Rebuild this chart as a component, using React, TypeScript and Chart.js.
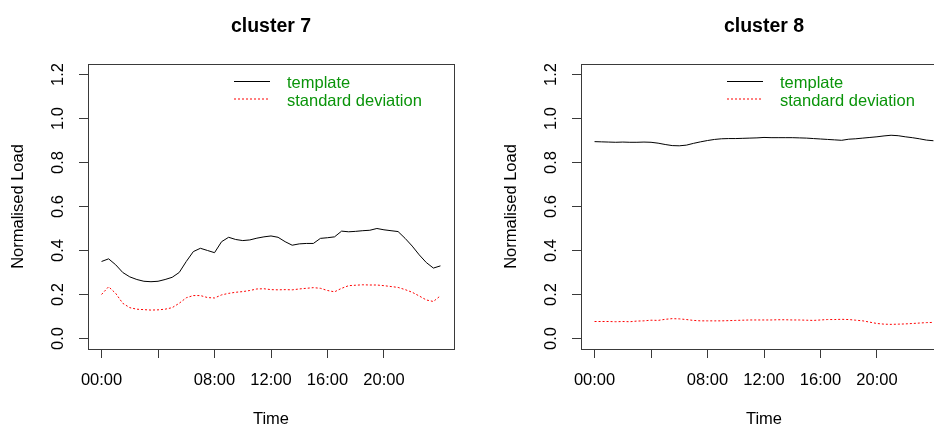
import React, { useEffect, useRef } from "react";
import { Chart, registerables } from "chart.js";

Chart.register(...registerables);

const HOURS = [
  0, 0.5, 1, 1.5, 2, 2.5, 3, 3.5, 4, 4.5, 5, 5.5, 6, 6.5, 7, 7.5, 8, 8.5, 9, 9.5,
  10, 10.5, 11, 11.5, 12, 12.5, 13, 13.5, 14, 14.5, 15, 15.5, 16, 16.5, 17, 17.5,
  18, 18.5, 19, 19.5, 20, 20.5, 21, 21.5, 22, 22.5, 23, 23.5, 24,
];

const C7_TEMPLATE = [
  0.35, 0.362, 0.335, 0.3, 0.28, 0.268, 0.26, 0.258, 0.26, 0.268, 0.278, 0.3,
  0.35, 0.395, 0.41, 0.4, 0.39, 0.44, 0.46, 0.45, 0.445, 0.448, 0.456, 0.462,
  0.466, 0.46, 0.44, 0.424, 0.43, 0.432, 0.432, 0.455, 0.458, 0.462, 0.488,
  0.485, 0.487, 0.49, 0.492, 0.5, 0.494, 0.49, 0.486, 0.455, 0.42, 0.38, 0.345,
  0.32, 0.33,
];

const C7_SD = [
  0.2, 0.235, 0.205, 0.16, 0.14, 0.133, 0.131, 0.129, 0.13, 0.133, 0.14, 0.16,
  0.185, 0.195, 0.195, 0.186, 0.184, 0.198, 0.205, 0.21, 0.213, 0.218, 0.225,
  0.226, 0.222, 0.221, 0.222, 0.221, 0.225, 0.228, 0.231, 0.228, 0.218, 0.212,
  0.228, 0.24, 0.242, 0.244, 0.243, 0.243, 0.24, 0.236, 0.232, 0.222, 0.21,
  0.193, 0.175, 0.168, 0.194,
];

const C8_TEMPLATE = [
  0.895, 0.894, 0.893, 0.892, 0.893, 0.892, 0.892, 0.893, 0.892, 0.888, 0.882,
  0.877, 0.876, 0.879, 0.887, 0.894, 0.9, 0.905, 0.908, 0.909, 0.909, 0.91,
  0.911, 0.912, 0.914, 0.913, 0.913, 0.913, 0.913, 0.912, 0.911, 0.909, 0.907,
  0.905, 0.903, 0.901, 0.906, 0.908, 0.911, 0.914, 0.917, 0.921, 0.924, 0.922,
  0.917, 0.913, 0.908, 0.902, 0.899,
];

const C8_SD = [
  0.077, 0.077, 0.077, 0.076, 0.077, 0.076, 0.079, 0.08, 0.083, 0.082, 0.087,
  0.09, 0.089, 0.086, 0.082, 0.08, 0.08, 0.08, 0.08, 0.081, 0.082, 0.083, 0.084,
  0.084, 0.084, 0.084, 0.085, 0.085, 0.084, 0.084, 0.083, 0.082, 0.084, 0.086,
  0.086, 0.087, 0.086, 0.083, 0.08, 0.074, 0.068, 0.065, 0.064, 0.065, 0.066,
  0.068, 0.07, 0.072, 0.073,
];

const X_TICKS = [0, 4, 8, 12, 16, 20];
const X_TICK_LABELS = ["00:00", "", "08:00", "12:00", "16:00", "20:00"];
const Y_TICKS = [0, 0.2, 0.4, 0.6, 0.8, 1.0, 1.2];
const Y_TICK_LABELS = ["0.0", "0.2", "0.4", "0.6", "0.8", "1.0", "1.2"];
const LEGEND_LABELS = ["template", "standard deviation"];

const FONT = "'Liberation Sans', Arial, Helvetica, sans-serif";
const AXIS_COLOR = "#3a3a3a";
const LEGEND_TEXT_COLOR = "#0a940a";

function makeRPlotPlugin(title: string) {
  return {
    id: "rplot",
    afterDraw(chart: any) {
      const { ctx, chartArea, scales } = chart;
      const xs = scales.x;
      const ys = scales.y;
      ctx.save();
      // box
      ctx.strokeStyle = AXIS_COLOR;
      ctx.lineWidth = 1;
      ctx.strokeRect(
        Math.round(chartArea.left) + 0.5,
        Math.round(chartArea.top) + 0.5,
        Math.round(chartArea.right - chartArea.left),
        Math.round(chartArea.bottom - chartArea.top)
      );
      // title
      ctx.fillStyle = "#000";
      ctx.font = `bold 19.5px ${FONT}`;
      ctx.textAlign = "center";
      ctx.textBaseline = "alphabetic";
      ctx.fillText(title, (chartArea.left + chartArea.right) / 2, 31.5);
      // x tick labels
      ctx.font = `16.5px ${FONT}`;
      ctx.fillStyle = "#000";
      X_TICKS.forEach((v, i) => {
        const lbl = X_TICK_LABELS[i];
        if (!lbl) return;
        ctx.fillText(lbl, xs.getPixelForValue(v), chartArea.bottom + 36);
      });
      // y tick labels (rotated)
      Y_TICKS.forEach((v, i) => {
        const py = ys.getPixelForValue(v);
        ctx.save();
        ctx.translate(chartArea.left - 24.7, py);
        ctx.rotate(-Math.PI / 2);
        ctx.textAlign = "center";
        ctx.textBaseline = "alphabetic";
        ctx.fillText(Y_TICK_LABELS[i], 0, 0);
        ctx.restore();
      });
      // legend
      const lx0 = chartArea.left + 146;
      const lx1 = chartArea.left + 182;
      const tx = chartArea.left + 199;
      const rows = [
        { lineY: 81, textY: 88.3, color: "#000", dash: [] as number[] },
        { lineY: 98.5, textY: 105.7, color: "#ff0000", dash: [2, 2] },
      ];
      rows.forEach((r, i) => {
        ctx.beginPath();
        ctx.setLineDash(r.dash);
        ctx.strokeStyle = r.color;
        ctx.lineWidth = 1;
        ctx.moveTo(lx0, r.lineY + 0.5);
        ctx.lineTo(lx1, r.lineY + 0.5);
        ctx.stroke();
        ctx.setLineDash([]);
        ctx.fillStyle = LEGEND_TEXT_COLOR;
        ctx.textAlign = "left";
        ctx.textBaseline = "alphabetic";
        ctx.font = `16.5px ${FONT}`;
        ctx.fillText(LEGEND_LABELS[i], tx, r.textY);
      });
      ctx.restore();
    },
  };
}

function Panel(props: {
  title: string;
  template: number[];
  sd: number[];
  left: number;
}) {
  const ref = useRef<HTMLCanvasElement | null>(null);
  useEffect(() => {
    if (!ref.current) return;
    const chart = new Chart(ref.current, {
      type: "line",
      data: {
        datasets: [
          {
            label: LEGEND_LABELS[0],
            data: HOURS.map((h, i) => ({ x: h, y: props.template[i] })),
            borderColor: "#000",
            borderWidth: 1,
            pointRadius: 0,
            tension: 0,
            fill: false,
          },
          {
            label: LEGEND_LABELS[1],
            data: HOURS.map((h, i) => ({ x: h, y: props.sd[i] })),
            borderColor: "#ff0000",
            borderWidth: 1,
            borderDash: [2, 2],
            pointRadius: 0,
            tension: 0,
            fill: false,
          },
        ],
      },
      options: {
        animation: false,
        responsive: false,
        devicePixelRatio: 1,
        layout: { padding: { left: 0, right: 13, top: 64, bottom: 0 } },
        plugins: {
          legend: { display: false },
          tooltip: { enabled: false },
          title: { display: false },
        },
        scales: {
          x: {
            type: "linear",
            min: -0.96,
            max: 24.96,
            border: { display: false },
            grid: {
              display: true,
              drawOnChartArea: false,
              drawTicks: true,
              tickLength: 9,
              tickColor: AXIS_COLOR,
              color: AXIS_COLOR,
              lineWidth: 1,
            },
            ticks: { display: false },
            afterBuildTicks: (scale: any) => {
              scale.ticks = X_TICKS.map((v) => ({ value: v }));
            },
            afterFit: (scale: any) => {
              scale.height = 81;
            },
            title: {
              display: true,
              text: "Time",
              color: "#000",
              font: { family: FONT, size: 16.5, lineHeight: 1.2 },
              padding: { top: 0, bottom: 1 },
            },
          },
          y: {
            type: "linear",
            min: -0.048,
            max: 1.248,
            border: { display: false },
            grid: {
              display: true,
              drawOnChartArea: false,
              drawTicks: true,
              tickLength: 9,
              tickColor: AXIS_COLOR,
              color: AXIS_COLOR,
              lineWidth: 1,
            },
            ticks: { display: false },
            afterBuildTicks: (scale: any) => {
              scale.ticks = Y_TICKS.map((v) => ({ value: v }));
            },
            afterFit: (scale: any) => {
              scale.width = 88;
            },
            title: {
              display: true,
              text: "Normalised Load",
              color: "#000",
              font: { family: FONT, size: 16.5, lineHeight: 1.2 },
              padding: { top: 8.4, bottom: 0 },
            },
          },
        },
      },
      plugins: [makeRPlotPlugin(props.title)],
    } as any);
    return () => chart.destroy();
  }, []);
  return (
    <canvas
      ref={ref}
      width={467}
      height={430}
      style={{
        position: "absolute",
        left: props.left,
        top: 0,
        width: 467,
        height: 430,
        display: "block",
      }}
    />
  );
}

export default function App() {
  return (
    <div
      style={{
        position: "fixed",
        left: 0,
        top: 0,
        width: 934,
        height: 430,
        overflow: "hidden",
        background: "#fff",
      }}
    >
      <Panel title="cluster 7" template={C7_TEMPLATE} sd={C7_SD} left={0} />
      <Panel title="cluster 8" template={C8_TEMPLATE} sd={C8_SD} left={493} />
    </div>
  );
}
